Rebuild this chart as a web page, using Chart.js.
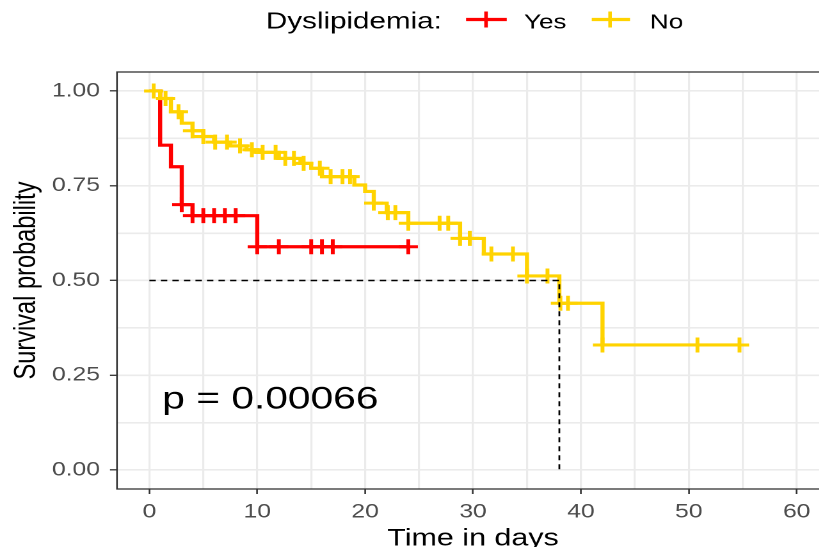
<!DOCTYPE html>
<html>
<head>
<meta charset="utf-8">
<script src="https://cdn.jsdelivr.net/npm/chart.js@4.4.1/dist/chart.umd.min.js"></script>
<style>
  html, body { margin: 0; padding: 0; background: #ffffff; overflow: hidden; }
  #wrap { position: relative; width: 819px; height: 547px; overflow: hidden; background: #ffffff; }
  #stretch { position: absolute; left: 0; top: 0; width: 660px; height: 560px; transform: scaleX(1.28); transform-origin: 0 0; }
</style>
</head>
<body>
<div id="wrap"><div id="stretch"><canvas id="c" width="660" height="560"></canvas></div></div>
<script>
// ---------------- data ----------------
const legendTitle = 'Dyslipidemia:';
const groupNames = ['Yes', 'No'];

// Kaplan-Meier steps: survival becomes S at time t
const yesTimes = [0, 1, 2, 3, 4, 10, 24];
const yesSurv  = [1.0, 0.857, 0.80, 0.70, 0.671, 0.589, 0.589];
const yesCensorTimes = [3, 4, 5, 6, 7, 8, 10, 12, 15, 16, 17, 24];
const yesCensorSurv  = [0.70, 0.671, 0.671, 0.671, 0.671, 0.671, 0.589, 0.589, 0.589, 0.589, 0.589, 0.589];

const noTimes = [0, 1, 2, 3, 4, 5, 6, 7.5, 9, 10, 12, 14, 15, 16, 19, 20, 20.8, 22, 24, 28.8, 31, 35, 38, 42, 54.7];
const noSurv  = [1.0, 0.98, 0.945, 0.915, 0.895, 0.88, 0.865, 0.855, 0.845, 0.838, 0.822, 0.809, 0.796, 0.774, 0.752, 0.735, 0.704, 0.679, 0.651, 0.611, 0.570, 0.512, 0.44, 0.33, 0.33];
const noCensorTimes = [0.4, 1.5, 2.7, 4, 5, 6.1, 7.2, 8.4, 9.5, 10.5, 11.7, 12.6, 13.4, 14.3, 15.8, 16.8, 17.9, 18.6, 20.8, 22.1, 22.8, 24, 26.9, 27.7, 28.8, 29.7, 31.7, 33.7, 35, 36.9, 38.1, 38.8, 42, 50.8, 54.7];
const noCensorSurv  = [1.0, 0.98, 0.945, 0.895, 0.88, 0.865, 0.865, 0.855, 0.845, 0.838, 0.838, 0.822, 0.822, 0.809, 0.796, 0.774, 0.774, 0.774, 0.704, 0.679, 0.679, 0.651, 0.651, 0.651, 0.611, 0.611, 0.570, 0.570, 0.512, 0.512, 0.44, 0.44, 0.33, 0.33, 0.33];

const medianTime = 38;
const medianSurv = 0.5;
const pValueText = 'p = 0.00066';

const xTickValues = [0, 10, 20, 30, 40, 50, 60];
const xTickLabels = ['0', '10', '20', '30', '40', '50', '60'];
const xGridValues = [0, 5, 10, 15, 20, 25, 30, 35, 40, 45, 50, 55, 60];
const yTickValues = [0, 0.25, 0.5, 0.75, 1.0];
const yTickLabels = ['0.00', '0.25', '0.50', '0.75', '1.00'];
const yGridValues = [0, 0.125, 0.25, 0.375, 0.5, 0.625, 0.75, 0.875, 1.0];

const xTitle = 'Time in days';
const yTitle = 'Survival probability';

// ---------------- styles ----------------
const RED = '#FF0000';
const YEL = '#FFD300';
const FONT = "'Liberation Sans', Arial, Helvetica, sans-serif";
const pvalPos = { x: 1.2, y: 0.185 };

const toPts = (ts, ss) => ts.map((t, i) => ({ x: t, y: ss[i] }));

const majorTick = (vals) => (ctx) => (ctx.tick && vals.indexOf(ctx.tick.value) >= 0) ? '#333333' : 'rgba(0,0,0,0)';

const decor = {
  id: 'decor',
  afterDraw(chart) {
    const { ctx, chartArea: a, scales } = chart;
    ctx.save();
    // panel border
    ctx.strokeStyle = '#333333';
    ctx.lineWidth = 1.3;
    ctx.strokeRect(a.left, a.top, a.right - a.left, a.bottom - a.top);

    // p-value text
    ctx.fillStyle = '#000000';
    ctx.font = '31.8px ' + FONT;
    ctx.textAlign = 'left';
    ctx.textBaseline = 'middle';
    ctx.fillText(pValueText, scales.x.getPixelForValue(pvalPos.x), scales.y.getPixelForValue(pvalPos.y));

    // legend (top, inline)
    const base = 28.3, symY = 19.5;
    ctx.textBaseline = 'alphabetic';
    ctx.font = '23.1px ' + FONT;
    ctx.fillText(legendTitle, 207.8, base);
    const items = [
      { c: RED, x0: 364.1, x1: 395.9, cx: 379.7, tx: 409.4, label: groupNames[0] },
      { c: YEL, x0: 462.3, x1: 492.2, cx: 476.6, tx: 507.8, label: groupNames[1] }
    ];
    items.forEach(it => {
      ctx.strokeStyle = it.c;
      ctx.lineWidth = 3.2;
      ctx.beginPath(); ctx.moveTo(it.x0, symY); ctx.lineTo(it.x1, symY); ctx.stroke();
      ctx.lineWidth = 2.8;
      ctx.beginPath(); ctx.moveTo(it.cx, symY - 8); ctx.lineTo(it.cx, symY + 8); ctx.stroke();
      ctx.fillStyle = '#000000';
      ctx.font = '20.3px ' + FONT;
      ctx.fillText(it.label, it.tx, base);
    });
    ctx.restore();
  }
};

new Chart(document.getElementById('c'), {
  type: 'line',
  data: {
    datasets: [
      { // median: horizontal then vertical
        data: [{ x: 0, y: medianSurv }, { x: medianTime, y: medianSurv }, { x: medianTime, y: 0 }],
        borderColor: '#000000', borderWidth: 1.4, borderDash: [5, 4], pointRadius: 0, fill: false
      },
      { data: toPts(noCensorTimes, noCensorSurv), showLine: false, pointStyle: 'cross', pointRadius: 7.5,
        pointBorderWidth: 3, pointBorderColor: YEL, pointBackgroundColor: YEL, borderColor: YEL },
      { data: toPts(yesCensorTimes, yesCensorSurv), showLine: false, pointStyle: 'cross', pointRadius: 7.5,
        pointBorderWidth: 3, pointBorderColor: RED, pointBackgroundColor: RED, borderColor: RED },
      { data: toPts(noTimes, noSurv), stepped: 'before', borderColor: YEL, borderWidth: 3.2, pointRadius: 0, fill: false },
      { data: toPts(yesTimes, yesSurv), stepped: 'before', borderColor: RED, borderWidth: 3.2, pointRadius: 0, fill: false }
    ]
  },
  options: {
    responsive: false,
    maintainAspectRatio: false,
    devicePixelRatio: 2,
    animation: false,
    events: [],
    layout: { padding: { left: 0, right: 12.3, top: 72, bottom: 0 } },
    plugins: { legend: { display: false }, tooltip: { enabled: false } },
    scales: {
      x: {
        type: 'linear', min: -3, max: 63,
        afterBuildTicks: (s) => { s.ticks = xGridValues.map(v => ({ value: v })); },
        afterFit: (s) => { s.height = 71; },
        ticks: {
          autoSkip: false, maxRotation: 0, padding: 6.4, color: '#4D4D4D',
          font: { family: FONT, size: 19.3 },
          callback: (v) => { const i = xTickValues.indexOf(v); return i >= 0 ? xTickLabels[i] : ''; }
        },
        grid: { color: '#EBEBEB', lineWidth: 1.6, tickLength: 5, tickWidth: 1.3, tickColor: majorTick(xTickValues) },
        border: { display: false },
        title: { display: true, text: xTitle, color: '#000000', font: { family: FONT, size: 23.8 }, padding: { top: 0, bottom: 6.8 } }
      },
      y: {
        type: 'linear', min: -0.05, max: 1.05,
        afterBuildTicks: (s) => { s.ticks = yGridValues.map(v => ({ value: v })); },
        afterFit: (s) => { s.width = 91.4; },
        ticks: {
          autoSkip: false, padding: 7.8, color: '#4D4D4D',
          font: { family: FONT, size: 19.3 },
          callback: (v) => { const i = yTickValues.indexOf(v); return i >= 0 ? yTickLabels[i] : ''; }
        },
        grid: { color: '#EBEBEB', lineWidth: 1.6, tickLength: 5.5, tickWidth: 1.3, tickColor: majorTick(yTickValues) },
        border: { display: false },
        title: { display: true, text: yTitle, color: '#000000', font: { family: FONT, size: 23.6 }, padding: { top: 6.9, bottom: 0 } }
      }
    }
  },
  plugins: [decor]
});
</script>
</body>
</html>
